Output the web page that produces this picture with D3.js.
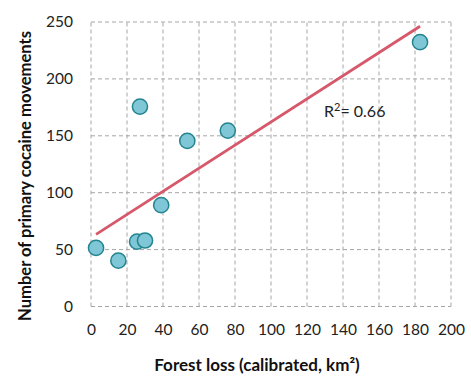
<!DOCTYPE html>
<html><head><meta charset="utf-8">
<script src="https://cdn.jsdelivr.net/npm/d3@7"></script>
<style>body{margin:0;background:#fff}svg{display:block}text{font-family:Lato,"Liberation Sans",sans-serif}</style>
</head><body>
<script>
const forestLoss = [2.8, 15.2, 25.6, 30, 39, 27.2, 53.5, 76, 182.8];
const movements  = [51.5, 40.3, 57, 58, 89, 175.7, 145.5, 154.6, 232.3];
const xTicks = [0,20,40,60,80,100,120,140,160,180,200];
const yTicks = [0,50,100,150,200,250];
const r2Label = "0.66";

const W=471,H=382;
const m={l:91,t:22,r:471-451,b:382-306.5};
const svg=d3.select("body").append("svg").attr("width",W).attr("height",H);
const x=d3.scaleLinear().domain([0,200]).range([m.l,W-m.r]);
const y=d3.scaleLinear().domain([0,250]).range([H-m.b,m.t]);

// grid
const g=svg.append("g");
g.selectAll("line.v").data(xTicks).join("line")
  .attr("x1",d=>x(d)).attr("x2",d=>x(d)).attr("y1",y(0)).attr("y2",y(250))
  .attr("stroke","#a6a6a6").attr("stroke-dasharray","4,3").attr("stroke-width",1);
g.selectAll("line.h").data(yTicks).join("line")
  .attr("y1",d=>y(d)).attr("y2",d=>y(d)).attr("x1",x(0)).attr("x2",x(200))
  .attr("stroke","#a6a6a6").attr("stroke-dasharray","4,3").attr("stroke-width",1);

// axes labels
const xa=svg.append("g").attr("transform",`translate(0,${y(0)})`)
  .call(d3.axisBottom(x).tickValues(xTicks).tickSize(0).tickPadding(17));
xa.select(".domain").remove();
xa.selectAll("text").attr("font-size",15.5).attr("fill","#222").style("font-family","Lato");
const ya=svg.append("g").attr("transform",`translate(${x(0)},0)`)
  .call(d3.axisLeft(y).tickValues(yTicks).tickSize(0).tickPadding(18));
ya.select(".domain").remove();
ya.selectAll("text").attr("font-size",15.5).attr("fill","#222").style("font-family","Lato");

// trend line (least squares)
const n=forestLoss.length, mx=d3.mean(forestLoss), my=d3.mean(movements);
let sxy=0,sxx=0;for(let i=0;i<n;i++){sxy+=(forestLoss[i]-mx)*(movements[i]-my);sxx+=(forestLoss[i]-mx)**2;}
const b=sxy/sxx,a=my-b*mx;
const x0=d3.min(forestLoss),x1=d3.max(forestLoss);
svg.append("line").attr("x1",x(x0)).attr("y1",y(a+b*x0)).attr("x2",x(x1)).attr("y2",y(a+b*x1))
  .attr("stroke","#d6586b").attr("stroke-width",2.75);

// points
svg.selectAll("circle").data(forestLoss.map((v,i)=>[v,movements[i]])).join("circle")
  .attr("cx",d=>x(d[0])).attr("cy",d=>y(d[1])).attr("r",7.6)
  .attr("fill","#7fc6d6").attr("stroke","#23858f").attr("stroke-width",1.5);

// R2
const t=svg.append("text").attr("x",324).attr("y",116.5).attr("font-size",16).attr("fill","#222");
t.append("tspan").text("R");
t.append("tspan").text("2").attr("font-size",11).attr("dy",-6);
t.append("tspan").text("= "+r2Label).attr("dy",6);

// titles
svg.append("text").attr("x",257).attr("y",370.5).attr("text-anchor","middle")
  .attr("font-size",17).attr("font-weight","bold").attr("fill","#111")
  .text("Forest loss (calibrated, km²)");
svg.append("text").attr("transform","translate(31,176) rotate(-90)").attr("text-anchor","middle")
  .attr("font-size",16.6).attr("font-weight","bold").attr("fill","#111")
  .text("Number of primary cocaine movements");
</script>
</body></html>
